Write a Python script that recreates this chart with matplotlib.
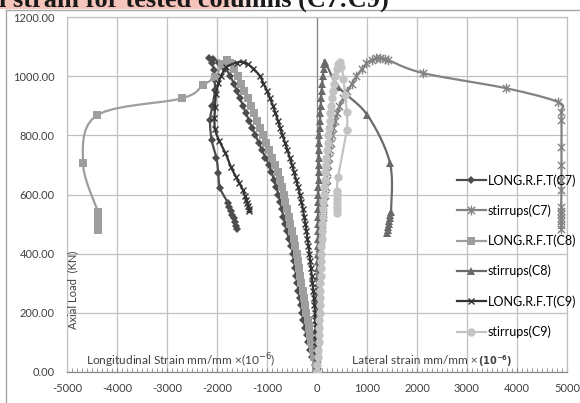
import numpy as np
import matplotlib
matplotlib.use("Agg")
import matplotlib.pyplot as plt
from matplotlib.lines import Line2D
from matplotlib.path import Path
from matplotlib.ticker import MultipleLocator, FormatStrFormatter

plt.rcParams['font.family'] = ['Lato', 'DejaVu Sans']
plt.rcParams['axes.unicode_minus'] = False

# -----------------------------
# data: axial load (kN) vs strain (x10^-6)
# -----------------------------
load_steps = [0, 25, 50, 75, 100, 125, 150, 175, 200, 225, 250, 275, 300, 325, 350, 375,
              400, 425, 450, 475, 500, 525, 550, 575, 600, 625, 650, 675, 700, 725, 750,
              775, 800, 825, 850, 875, 900, 925, 950, 975, 1000, 1025]

# LONG.R.F.T (C7)
c7_long_rise = [0, -45, -90, -130, -170, -205, -240, -270, -300, -325, -348, -370, -390, -413,
                -435, -458, -480, -520, -560, -600, -640, -670, -700, -735, -770, -815, -860,
                -910, -960, -1030, -1100, -1165, -1230, -1295, -1360, -1420, -1480, -1540,
                -1600, -1665, -1730, -1830]
c7_long_tail_load = [1045, 1058, 1062, 1045, 1020, 990, 953, 900, 851, 784, 723, 672, 622,
                     572, 558, 545, 532, 519, 506, 494, 483]
c7_long_tail = [-1950, -2080, -2150, -2100, -2060, -2050, -2040, -2090, -2140, -2107, -2010,
                -1975, -1940, -1780, -1750, -1720, -1690, -1660, -1635, -1615, -1600]

# stirrups (C7)
c7_stir_rise = [0, 2, 4, 6, 8, 10, 12, 14, 16, 18, 20, 23, 26, 29, 32, 36, 45, 60, 72, 85, 100,
                115, 130, 145, 160, 175, 193, 208, 225, 242, 260, 282, 305, 330, 360, 400, 450,
                520, 610, 700, 790, 900]
c7_stir_tail_load = [1043, 1055, 1060, 1060, 1057, 1054, 1010, 959, 912, 880, 851, 761, 699,
                     649, 615, 557, 545, 533, 521, 509, 497, 485]
c7_stir_tail = [990, 1100, 1180, 1270, 1360, 1430, 2130, 3790, 4830, 4880, 4890, 4890, 4890,
                4890, 4890, 4880, 4880, 4880, 4880, 4880, 4880, 4880]

# LONG.R.F.T (C8)
c8_long_rise = [0, -28, -55, -83, -110, -135, -160, -185, -210, -235, -260, -285, -310, -333,
                -355, -378, -400, -430, -460, -495, -530, -565, -600, -630, -660, -700, -740,
                -785, -830, -890, -950, -1015, -1080, -1140, -1200, -1260, -1320, -1385, -1450,
                -1515, -1580, -1650]
c8_long_tail_load = [1045, 1055, 1040, 997, 970, 925, 868, 706, 540, 525, 510, 495, 480]
c8_long_tail = [-1740, -1800, -1900, -2040, -2280, -2700, -4400, -4680, -4380, -4390, -4380,
                -4390, -4385]

# stirrups (C8)
c8_stir_rise = [0, 2, 4, 5, 6, 7, 8, 9, 10, 11, 12, 13, 14, 15, 16, 17, 18, 19, 20, 21, 22, 23,
                24, 25, 27, 29, 31, 33, 35, 38, 41, 45, 50, 55, 60, 66, 73, 82, 92, 104, 118, 135]
c8_stir_tail_load = [1040, 1048, 964, 868, 706, 540, 530, 520, 510, 500, 490, 480, 470]
c8_stir_tail = [150, 165, 427, 1010, 1460, 1480, 1470, 1455, 1445, 1435, 1425, 1420, 1410]

# LONG.R.F.T (C9)
c9_long_rise = [0, -3, -5, -10, -15, -20, -25, -32, -40, -50, -60, -75, -90, -105, -120, -135,
                -150, -170, -190, -210, -230, -255, -280, -310, -340, -380, -420, -460, -500,
                -545, -590, -640, -690, -735, -780, -830, -880, -940, -1000, -1070, -1140, -1270]
c9_long_tail_load = [1040, 1047, 1046, 1031, 1000, 976, 940, 895, 860, 820, 780, 740, 692, 660,
                     640, 615, 595, 580, 570, 560, 550, 545]
c9_long_tail = [-1380, -1480, -1600, -1810, -1920, -1970, -2020, -2040, -2050, -2040, -1950,
                -1830, -1720, -1620, -1560, -1480, -1440, -1410, -1390, -1370, -1360, -1350]

# stirrups (C9)
c9_stir_rise = [0, 10, 20, 28, 35, 40, 45, 50, 55, 58, 62, 65, 68, 72, 76, 80, 85, 90, 95, 100,
                106, 112, 120, 128, 136, 145, 155, 165, 176, 188, 200, 213, 226, 240, 255, 270,
                286, 303, 322, 342, 365, 395]
c9_stir_tail_load = [1040, 1047, 1030, 990, 936, 879, 818, 659, 612, 598, 585, 572, 559, 546, 537]
c9_stir_tail = [430, 460, 490, 530, 560, 593, 593, 420, 400, 395, 392, 392, 392, 393, 395]

labels = ['LONG.R.F.T(C7)', 'stirrups(C7)', 'LONG.R.F.T(C8)', 'stirrups(C8)',
          'LONG.R.F.T(C9)', 'stirrups(C9)']

# excel-style asterisk marker (x plus vertical bar)
star = Path([(0, -1), (0, 1), (-0.75, -0.75), (0.75, 0.75), (-0.75, 0.75), (0.75, -0.75)],
            [Path.MOVETO, Path.LINETO, Path.MOVETO, Path.LINETO, Path.MOVETO, Path.LINETO])

styles = [
    dict(color='#4d4d4d', marker='D', ms=4.5, mew=0),
    dict(color='#828282', marker=star, ms=7, mew=1.0),
    dict(color='#9e9e9e', marker='s', ms=5.8, mew=0),
    dict(color='#6a6a6a', marker='^', ms=6, mew=0),
    dict(color='#333333', marker='x', ms=5, mew=1.0),
    dict(color='#c3c3c3', marker='o', ms=6, mew=0),
]

series = [
    (c7_long_rise + c7_long_tail, load_steps + c7_long_tail_load),
    (c7_stir_rise + c7_stir_tail, load_steps + c7_stir_tail_load),
    (c8_long_rise + c8_long_tail, load_steps + c8_long_tail_load),
    (c8_stir_rise + c8_stir_tail, load_steps + c8_stir_tail_load),
    (c9_long_rise + c9_long_tail, load_steps + c9_long_tail_load),
    (c9_stir_rise + c9_stir_tail, load_steps + c9_stir_tail_load),
]


def smooth(x, y, n=8):
    # catmull-rom curve through the points, like excel's smoothed line
    pts = np.column_stack([x, y]).astype(float)
    p = np.vstack([pts[0], pts, pts[-1]])
    t = np.linspace(0, 1, n, endpoint=False)[:, None]
    out = []
    for i in range(1, len(p) - 2):
        p0, p1, p2, p3 = p[i - 1], p[i], p[i + 1], p[i + 2]
        seg = 0.5 * (2 * p1 + (-p0 + p2) * t + (2 * p0 - 5 * p1 + 4 * p2 - p3) * t ** 2
                     + (-p0 + 3 * p1 - 3 * p2 + p3) * t ** 3)
        out.append(seg)
    out.append(pts[-1:])
    c = np.vstack(out)
    return c[:, 0], c[:, 1]


fig = plt.figure(figsize=(5.8, 4.03), dpi=100)
ax = fig.add_axes([67 / 580, 31 / 403, 500 / 580, 355 / 403])

ax.axvline(0, color='#868686', lw=0.9, zorder=1)

handles = []
for k, ((sx, sy), st) in enumerate(zip(series, styles)):
    lx, ly = smooth(sx, sy)
    ax.plot(lx, ly, color=st['color'], lw=1.6, zorder=2 + k, solid_capstyle='round')
    ax.plot(sx, sy, ls='none', marker=st['marker'], ms=st['ms'], mew=st['mew'],
            color=st['color'], mec=st['color'], zorder=2 + k)
    handles.append(Line2D([], [], color=st['color'], lw=1.6, marker=st['marker'],
                          ms=st['ms'], mew=st['mew'], mec=st['color'], label=labels[k]))

ax.set_xlim(-5000, 5000)
ax.set_ylim(0, 1200)
ax.set_xticks(range(-5000, 5001, 1000))
ax.set_yticks(range(0, 1201, 200))
ax.xaxis.set_minor_locator(MultipleLocator(100))
ax.yaxis.set_major_formatter(FormatStrFormatter('%.2f'))
ax.grid(color='#c0c0c0', lw=0.9)
ax.set_axisbelow(True)

ax.tick_params(axis='y', length=0, pad=9, labelsize=8, labelcolor='#404040')
ax.tick_params(axis='x', which='both', direction='in', length=3, color='#868686',
               pad=8, labelsize=8, labelcolor='#404040')
for side in ['top', 'right', 'left']:
    ax.spines[side].set_color('#c0c0c0')
    ax.spines[side].set_linewidth(0.9)
ax.spines['bottom'].set_color('#868686')
ax.spines['bottom'].set_linewidth(0.9)

ax.legend(handles=handles, loc='center left', bbox_to_anchor=(457 / 580, 1 - 256 / 403),
          bbox_transform=fig.transFigure, frameon=False, fontsize=9, handlelength=2.3,
          handletextpad=0.15, labelspacing=1.42, borderpad=0, borderaxespad=0, numpoints=1)

fig.text(73 / 580, 1 - 290 / 403, 'Axial Load  (KN)', rotation=90, ha='center', va='center',
         fontsize=8, color='#404040')
fig.text(86 / 580, 1 - 361 / 403, r'Longitudinal Strain mm/mm ×(10$^{-6}$)', ha='left',
         va='center', fontsize=8.6, color='#404040')
t_lat = fig.text(352 / 580, 1 - 361 / 403, 'Lateral strain mm/mm ×', ha='left', va='center',
                 fontsize=8.6, color='#404040')
ax.annotate(r'$\mathbf{(10^{-6})}$', xy=(1, 0.45), xycoords=t_lat, ha='left', va='center',
            fontsize=7, color='#404040')

# heading strip above the chart frame
strip = np.ones((1, 265, 4))
strip[..., 0] = 247 / 255
strip[..., 1] = 196 / 255
strip[..., 2] = 188 / 255
strip[0, :, 3] = np.clip((265 - np.arange(265)) / 45, 0, 1)
sax = fig.add_axes([0, 1 - 9 / 403, 265 / 580, 9 / 403])
sax.imshow(strip, aspect='auto', interpolation='bilinear')
sax.axis('off')
fig.text(389 / 580, 1 - 6.5 / 403, 'Axial strain for tested columns (C7:C9)', ha='right',
         va='baseline', fontsize=19, fontweight='bold', family='Liberation Serif',
         color='#1a1a1a', zorder=5)

fig.add_artist(Line2D([6 / 580, 1], [1 - 9.6 / 403] * 2, transform=fig.transFigure,
                      color='#a6a6a6', lw=1))
fig.add_artist(Line2D([6 / 580] * 2, [0, 1 - 9.6 / 403], transform=fig.transFigure,
                      color='#a6a6a6', lw=1))

fig.savefig('out.png', dpi=100)
